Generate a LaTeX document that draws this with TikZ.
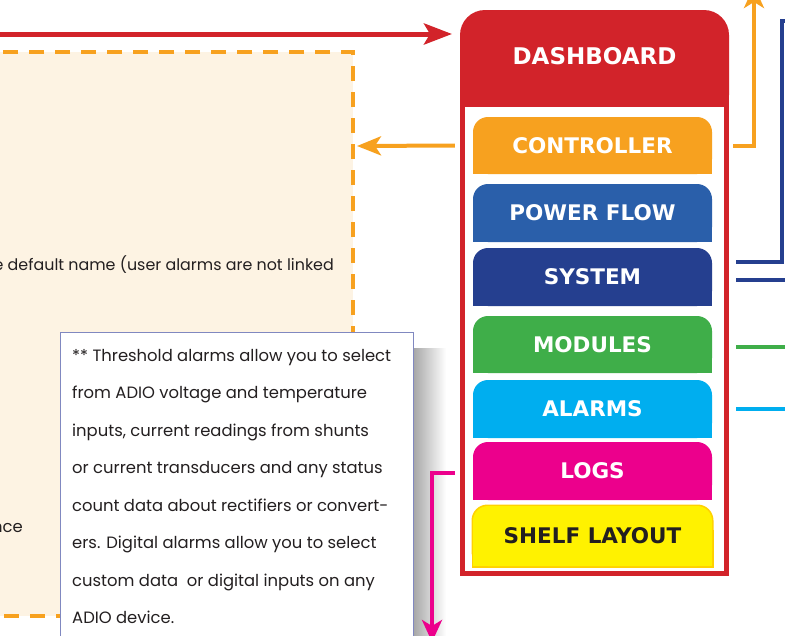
\documentclass[tikz,border=0pt]{standalone}
\usepackage{fontspec}
\setmainfont{Poppins}
\newfontfamily\tabfont{DejaVu Sans}
\usetikzlibrary{arrows.meta}

\definecolor{boardred}{HTML}{D2232A}
\definecolor{ctrlorange}{HTML}{F7A11F}
\definecolor{flowblue}{HTML}{2A5FAA}
\definecolor{sysblue}{HTML}{253F8F}
\definecolor{modgreen}{HTML}{3FAE49}
\definecolor{alarmcyan}{HTML}{00AEEF}
\definecolor{logmagenta}{HTML}{EC008C}
\definecolor{shelfyellow}{HTML}{FFF200}
\definecolor{shelfgold}{HTML}{FFD200}
\definecolor{areafill}{HTML}{FDF3E3}
\definecolor{noteborder}{HTML}{8088C0}
\definecolor{notegray}{HTML}{231F20}
\definecolor{shelftext}{HTML}{231F20}

\tikzset{
  tablabel/.style={minimum width=239pt, minimum height=50pt, inner sep=0pt,
    font=\tabfont\bfseries\fontsize{21.5}{24}\selectfont},
  notetext/.style={inner sep=0pt, text=notegray, font=\fontsize{16.4}{18}\selectfont},
  link/.style={line width=4pt},
}

% one tab of the dashboard: rounded on top, square at the bottom
\newcommand\menutab[6][white]{%
  \fill[#3, rounded corners=15pt] (473,#4) rectangle (712,#5);
  \fill[#3] (473,#4+25) rectangle (712,#5);
  \node[tablabel, text=#1] (#2) at (592.5,{(#4+#5)/2}) {#6};}

\begin{document}
\begin{tikzpicture}[x=1pt,y=-1pt]
  \useasboundingbox (0,0) rectangle (785,635);
  \clip (0,0) rectangle (785,635);

  % dashed area on the left
  \draw[ctrlorange, fill=areafill, line width=4pt, dash pattern=on 15pt off 11pt]
    (-30,52) rectangle (353,616);
  \node[notetext, font=\fontsize{15.9}{18}\selectfont, anchor=base east] (hintname)
    at (334,270) {e default name (user alarms are not linked};
  \node[notetext, anchor=base east] (hintnce) at (23,532) {nce};

  % note with shadow
  \fill[left color=black!35, right color=white] (413,348) rectangle (446,640);
  \node[draw=noteborder, fill=white, line width=0.8pt, anchor=north west,
    minimum width=353pt, minimum height=330pt] (note) at (60,332) {};
  \foreach \txt [count=\i from 0] in {
      {** Threshold alarms allow you to select},
      {from ADIO voltage and temperature},
      {inputs, current readings from shunts},
      {or current transducers and any status},
      {count data about rectifiers or convert-},
      {ers. Digital alarms allow you to select},
      {custom data\ \ or digital inputs on any},
      {ADIO device.}}
    \node[notetext, anchor=base west] (line\i) at (72,361+37.5*\i) {\txt};

  % dashboard frame
  \fill[boardred, rounded corners=25pt] (460,10) rectangle (729,120);
  \fill[boardred] (460,60) rectangle (729,576);
  \fill[white] (465,107) rectangle (724,571);
  \node[font=\tabfont\bfseries\fontsize{23}{26}\selectfont, text=white, inner sep=0pt]
    (board) at (594.5,56) {DASHBOARD};

  % tabs
  \menutab{ctrl}{ctrlorange}{117}{174}{CONTROLLER}
  \menutab{flow}{flowblue}{184}{242}{POWER FLOW}
  \menutab{sys}{sysblue}{248}{306}{SYSTEM}
  \menutab{mod}{modgreen}{316}{373}{MODULES}
  \menutab{alarm}{alarmcyan}{380}{438}{ALARMS}
  \menutab{logs}{logmagenta}{442}{500}{LOGS}
  \fill[shelfgold, rounded corners=16pt] (471.5,504.5) rectangle (713.5,567.5);
  \fill[shelfgold] (471.5,530) rectangle (713.5,567.5);
  \menutab[shelftext]{shelf}{shelfyellow}{506}{566}{SHELF LAYOUT}

  % free ends
  \coordinate (redtip) at (452,34);
  \coordinate (redin) at (-5,34);
  \coordinate (ctrltip) at (357,146);
  \coordinate (ctrlup) at (754,-14);
  \coordinate (sysup) at (782,21);
  \coordinate (sysoff) at (800,21);
  \coordinate (sysright) at (800,280);
  \coordinate (modout) at (800,347);
  \coordinate (alarmout) at (800,409);
  \coordinate (logsdown) at (432,642);

  % connectors
  \draw[boardred, line width=5pt, -{Stealth[length=28pt,width=21pt,inset=6pt]}]
    (redin) -- (redtip);
  \draw[ctrlorange, link, -{Stealth[length=24pt,width=19pt,inset=6pt]}]
    ([xshift=-18pt]ctrl.west) -- (ctrltip);
  \draw[ctrlorange, link, -{Stealth[length=22pt,width=20pt,inset=6pt]}]
    ([xshift=21pt]ctrl.east) -| (ctrlup);
  \draw[sysblue, link] ([xshift=24pt,yshift=15pt]sys.east) -| (sysup) -- (sysoff);
  \draw[sysblue, link] ([xshift=24pt,yshift=-3pt]sys.east) -- (sysright);
  \draw[modgreen, link] ([xshift=24pt,yshift=-2.5pt]mod.east) -- (modout);
  \draw[alarmcyan, link] ([xshift=24pt]alarm.east) -- (alarmout);
  \draw[logmagenta, line width=3.8pt, -{Stealth[length=22pt,width=20pt,inset=6pt]}]
    ([xshift=-18pt,yshift=-2pt]logs.west) -| (logsdown);
\end{tikzpicture}
\end{document}
